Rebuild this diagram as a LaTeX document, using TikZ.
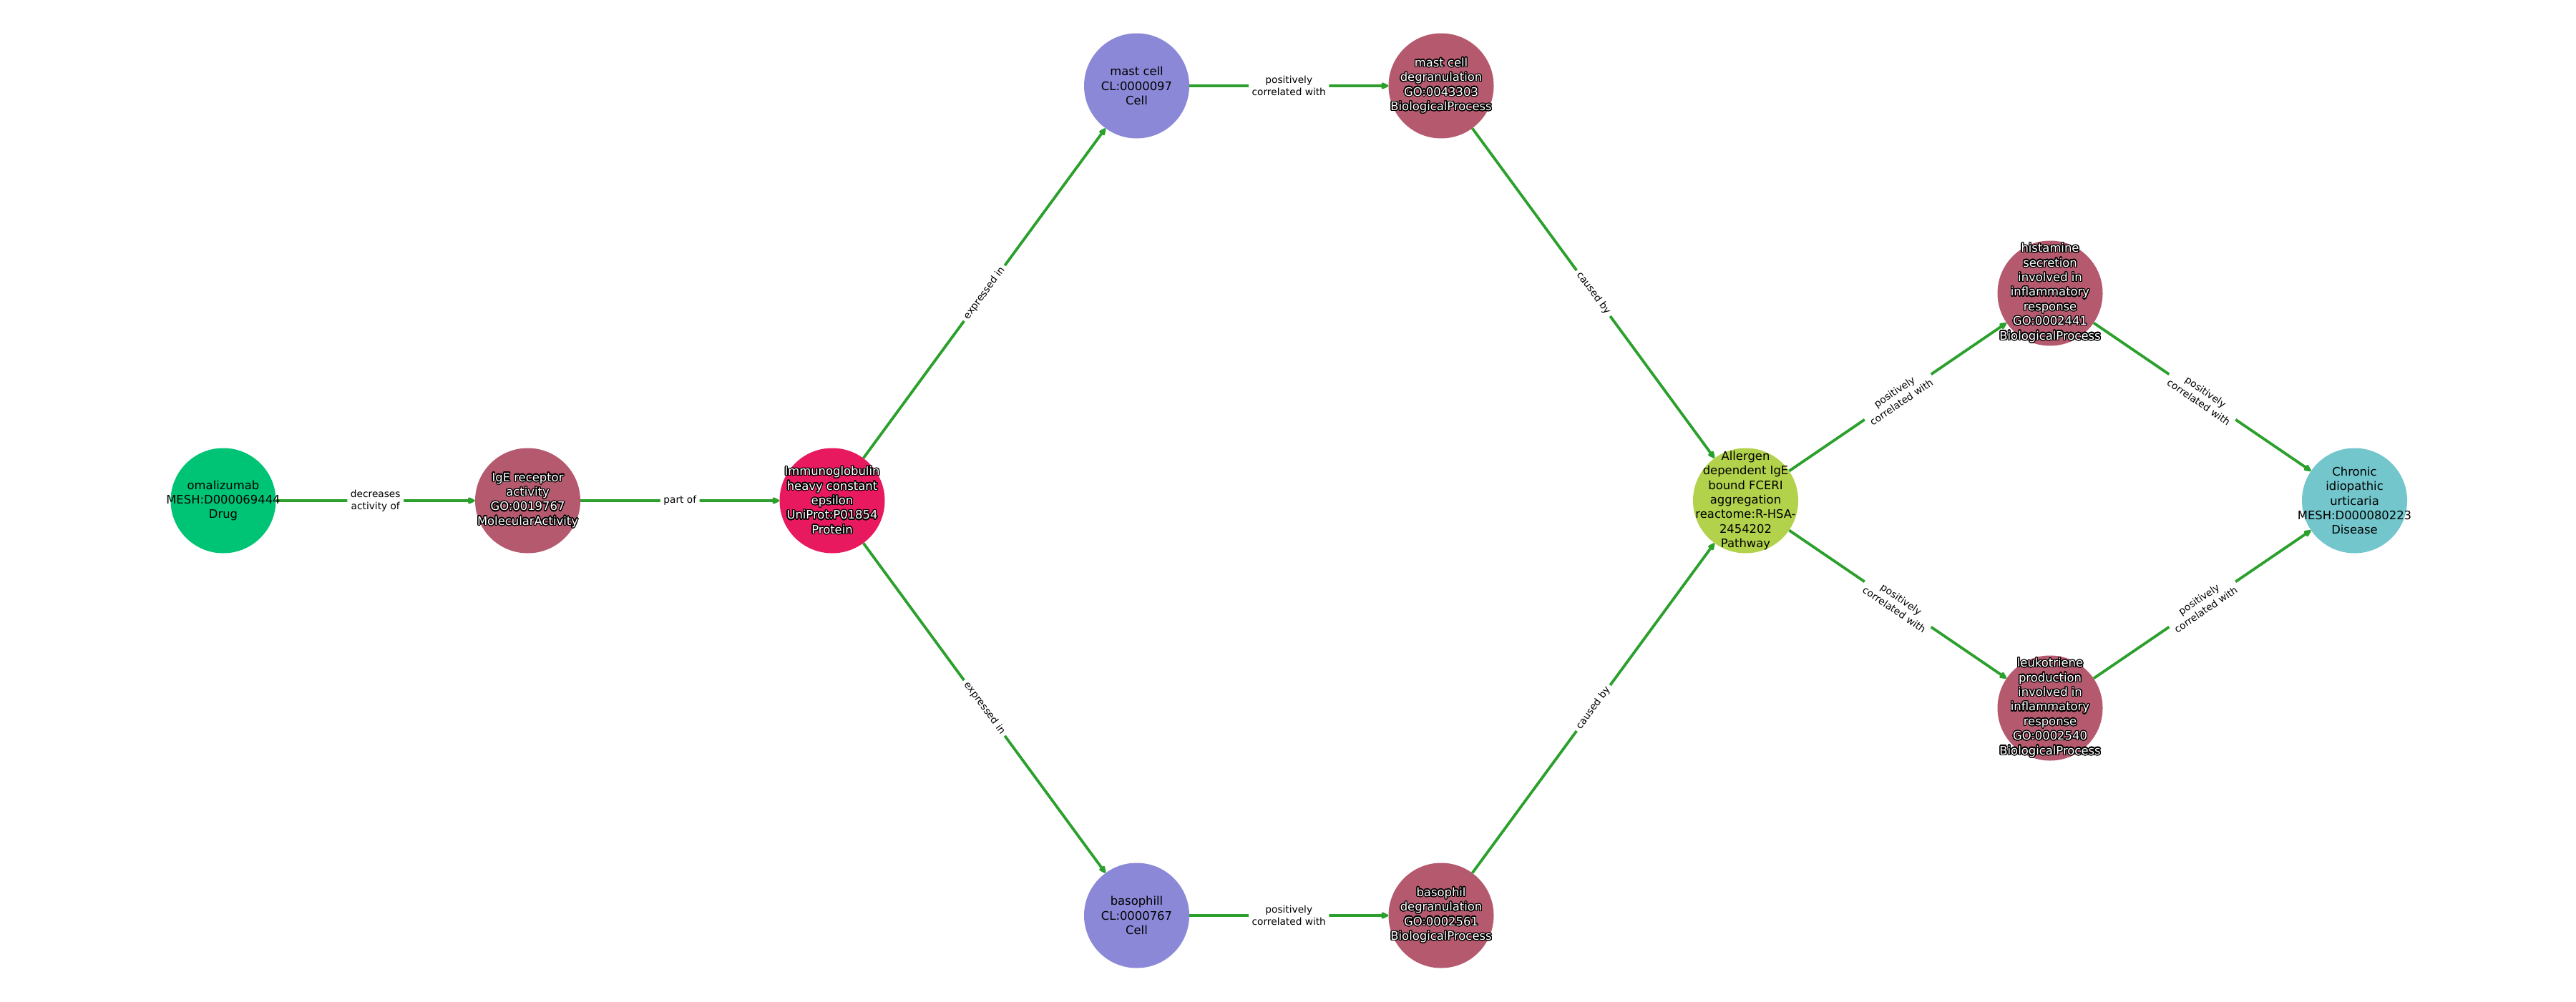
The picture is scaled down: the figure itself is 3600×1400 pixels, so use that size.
\documentclass[tikz,border=0pt]{standalone}
\usepackage{fontspec}
\setmainfont{DejaVu Sans}
\usepackage{contour}
\contourlength{1.3pt}
\contournumber{24}
\usetikzlibrary{arrows.meta}
\definecolor{cDrug}{RGB}{0,196,117}
\definecolor{cProc}{RGB}{181,89,110}
\definecolor{cProt}{RGB}{232,25,95}
\definecolor{cCell}{RGB}{139,136,216}
\definecolor{cPath}{RGB}{178,210,75}
\definecolor{cDis}{RGB}{114,198,204}
\definecolor{cEdge}{RGB}{44,160,44}
\newcommand{\wl}[1]{\contour{black}{#1}}
\begin{document}
\begin{tikzpicture}[x=1pt,y=-1pt,
  ent/.style={circle, minimum size=147pt, inner sep=0pt, draw=none},
  ntext/.style={align=center, font=\fontsize{16.4}{20.4}\selectfont, text=black, inner sep=0pt},
  wtext/.style={ntext, text=white},
  rel/.style={draw=cEdge, line width=3.8pt, -{Triangle[length=12pt,width=10pt,round]}},
  elabel/.style={fill=white, rounded corners=3pt, align=center, font=\fontsize{13.7}{17.3}\selectfont, inner xsep=4.5pt, inner ysep=3pt, text=black}
]
\useasboundingbox (0,0) rectangle (3600,1400);
\fill[white] (0,0) rectangle (3600,1400);

% entity circles
\node[ent, fill=cDrug] (oma) at (312,700) {};
\node[ent, fill=cProc] (igr) at (737.5,700) {};
\node[ent, fill=cProt] (igh) at (1163,700) {};
\node[ent, fill=cCell] (mast) at (1588.5,120) {};
\node[ent, fill=cProc] (mdeg) at (2014,120) {};
\node[ent, fill=cCell] (baso) at (1588.5,1280) {};
\node[ent, fill=cProc] (bdeg) at (2014,1280) {};
\node[ent, fill=cPath] (allg) at (2439.5,700) {};
\node[ent, fill=cProc] (hist) at (2865,410) {};
\node[ent, fill=cProc] (leuk) at (2865,990) {};
\node[ent, fill=cDis] (ciu) at (3290.5,700) {};

% connectors
\draw[rel] (oma) -- node[elabel]{decreases\\activity of} (igr);
\draw[rel] (igr) -- node[elabel]{part of} (igh);
\draw[rel] (igh) -- node[elabel, sloped]{expressed in} (mast);
\draw[rel] (igh) -- node[elabel, sloped]{expressed in} (baso);
\draw[rel] (mast) -- node[elabel]{positively\\correlated with} (mdeg);
\draw[rel] (baso) -- node[elabel]{positively\\correlated with} (bdeg);
\draw[rel] (mdeg) -- node[elabel, sloped]{caused by} (allg);
\draw[rel] (bdeg) -- node[elabel, sloped]{caused by} (allg);
\draw[rel] (allg) -- node[elabel, sloped]{positively\\correlated with} (hist);
\draw[rel] (allg) -- node[elabel, sloped]{positively\\correlated with} (leuk);
\draw[rel] (hist) -- node[elabel, sloped]{positively\\correlated with} (ciu);
\draw[rel] (leuk) -- node[elabel, sloped]{positively\\correlated with} (ciu);

% entity texts
\node[ntext] (omaT) at (oma) {omalizumab\\MESH:D000069444\\Drug};
\node[wtext] (igrT) at (igr) {\wl{IgE receptor}\\\wl{activity}\\\wl{GO:0019767}\\\wl{MolecularActivity}};
\node[wtext] (ighT) at (igh) {\wl{Immunoglobulin}\\\wl{heavy constant}\\\wl{epsilon}\\\wl{UniProt:P01854}\\\wl{Protein}};
\node[ntext] (mastT) at (mast) {mast cell\\CL:0000097\\Cell};
\node[wtext] (mdegT) at (mdeg) {\wl{mast cell}\\\wl{degranulation}\\\wl{GO:0043303}\\\wl{BiologicalProcess}};
\node[ntext] (basoT) at (baso) {basophill\\CL:0000767\\Cell};
\node[wtext] (bdegT) at (bdeg) {\wl{basophil}\\\wl{degranulation}\\\wl{GO:0002561}\\\wl{BiologicalProcess}};
\node[ntext] (allgT) at (allg) {Allergen\\dependent IgE\\bound FCERI\\aggregation\\reactome:R-HSA-\\2454202\\Pathway};
\node[wtext] (histT) at (hist) {\wl{histamine}\\\wl{secretion}\\\wl{involved in}\\\wl{inflammatory}\\\wl{response}\\\wl{GO:0002441}\\\wl{BiologicalProcess}};
\node[wtext] (leukT) at (leuk) {\wl{leukotriene}\\\wl{production}\\\wl{involved in}\\\wl{inflammatory}\\\wl{response}\\\wl{GO:0002540}\\\wl{BiologicalProcess}};
\node[ntext] (ciuT) at (ciu) {Chronic\\idiopathic\\urticaria\\MESH:D000080223\\Disease};
\end{tikzpicture}
\end{document}
